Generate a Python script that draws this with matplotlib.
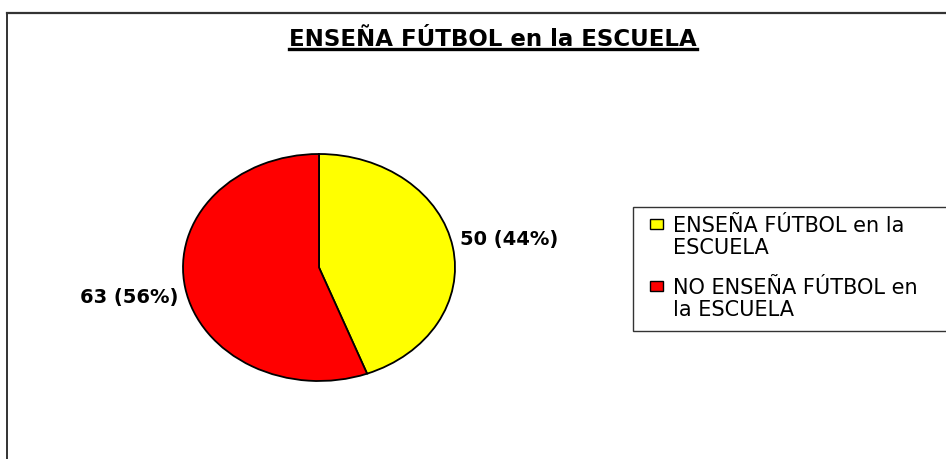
import numpy as np
import matplotlib
matplotlib.use("Agg")
import matplotlib.pyplot as plt
from matplotlib.patches import Rectangle
from matplotlib.lines import Line2D

# datos del grafico
labels = ["ENSEÑA FÚTBOL en la\nESCUELA", "NO ENSEÑA FÚTBOL en\nla ESCUELA"]
values = [50, 63]
colors = ["#FFFF00", "#FF0000"]
title = "ENSEÑA FÚTBOL en la ESCUELA"

W, H = 946, 460
plt.rcParams['font.family'] = ['DejaVu Sans']

fig = plt.figure(figsize=(W / 100, H / 100), dpi=100)
fig.patch.set_facecolor('white')


def fx(x):
    return x / W


def fy(y):
    return 1 - y / H


# marco del area del grafico
fig.add_artist(Line2D([fx(7), fx(W + 5)], [fy(14), fy(14)], color='#333333', lw=1.6,
                      transform=fig.transFigure))
fig.add_artist(Line2D([fx(7), fx(7)], [fy(14), fy(H + 5)], color='#333333', lw=1.4,
                      transform=fig.transFigure))

# pastel (eliptico, como en el original)
ax = fig.add_axes([fx(183), fy(382), (455 - 183) / W, (382 - 155) / H])
wedges, _ = ax.pie(values, colors=colors, startangle=90, counterclock=False,
                   wedgeprops=dict(edgecolor='black', linewidth=1.3))
ax.set_aspect('auto')
ax.set_xlim(-1, 1)
ax.set_ylim(-1, 1)
ax.axis('off')

total = sum(values)
for w, v in zip(wedges, values):
    ang = np.deg2rad((w.theta1 + w.theta2) / 2)
    r = 1.42
    ax.text(r * np.cos(ang), r * np.sin(ang), f"{v} ({v / total * 100:.0f}%)",
            ha='center', va='center', fontsize=14, fontweight='bold', clip_on=False)

# titulo subrayado
t = fig.text(fx(493), fy(39), title, ha='center', va='center',
             fontsize=16.5, fontweight='bold')
fig.canvas.draw()
bb = t.get_window_extent(renderer=fig.canvas.get_renderer())
fig.add_artist(Line2D([bb.x0 / W, bb.x1 / W], [fy(50), fy(50)], color='black', lw=2.4,
                      transform=fig.transFigure))

# leyenda
fig.add_artist(Rectangle((fx(633), fy(332)), fx(W + 20 - 633), (332 - 208) / H,
                         facecolor='white', edgecolor='#333333', lw=1.0,
                         transform=fig.transFigure))
centers = [237, 299]
marks = [225, 287]
for lab, col, cy, my in zip(labels, colors, centers, marks):
    fig.add_artist(Rectangle((fx(650), fy(my + 5)), 13 / W, 10 / H, facecolor=col,
                             edgecolor='black', lw=1.0, transform=fig.transFigure))
    fig.text(fx(673), fy(cy), lab, ha='left', va='center', fontsize=15,
             linespacing=1.12)

fig.savefig("out.png", dpi=100, facecolor='white')
